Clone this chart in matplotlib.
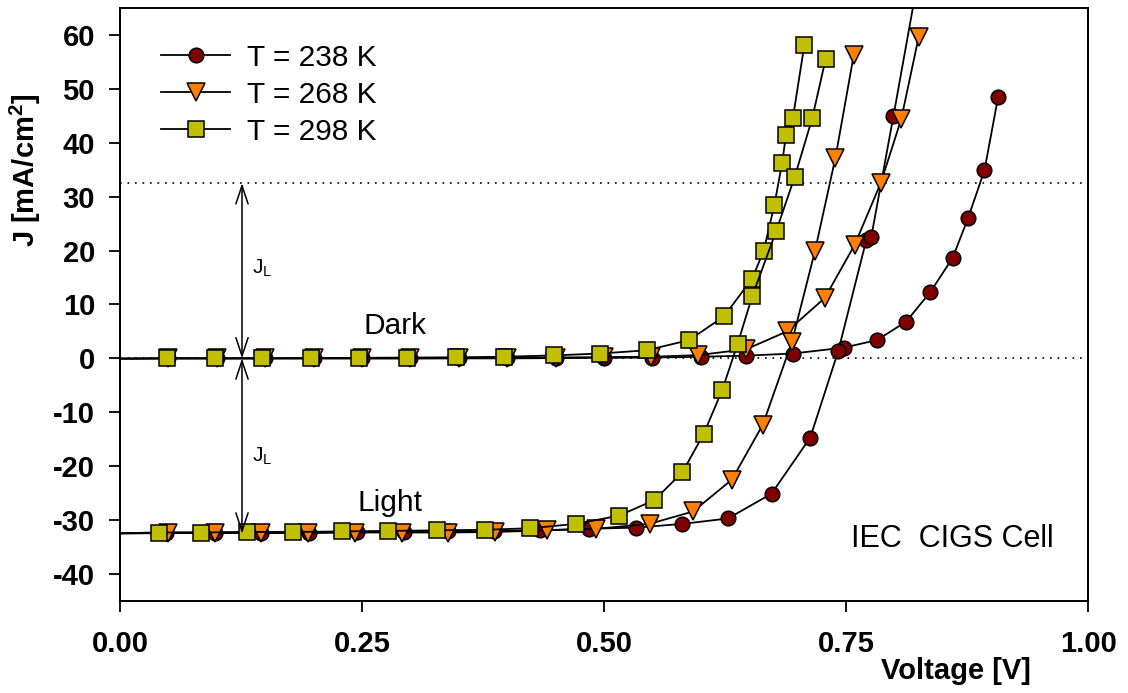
import matplotlib
matplotlib.use("Agg")
import matplotlib.pyplot as plt

plt.rcParams['font.family'] = ['Liberation Sans', 'DejaVu Sans']
plt.rcParams['mathtext.fontset'] = 'custom'
plt.rcParams['mathtext.rm'] = 'Liberation Sans'
plt.rcParams['mathtext.bf'] = 'Liberation Sans:bold'
plt.rcParams['axes.unicode_minus'] = False

# T = 238 K
v238_light = [-0.05, 0.048, 0.098, 0.146, 0.195, 0.245, 0.293, 0.339, 0.386, 0.434,
              0.484, 0.533, 0.581, 0.628, 0.673, 0.713, 0.742, 0.771, 0.776, 0.799, 0.826]
j238_light = [-32.6, -32.3, -32.3, -32.3, -32.3, -32.2, -32.2, -32.1, -32.0, -31.9,
              -31.6, -31.4, -30.7, -29.7, -25.1, -14.7, 1.4, 22.0, 22.5, 45.0, 72.0]
v238_dark = [-0.05, 0.05, 0.10, 0.15, 0.20, 0.25, 0.30, 0.35, 0.40, 0.45, 0.50, 0.55,
             0.60, 0.647, 0.695, 0.748, 0.782, 0.812, 0.837, 0.860, 0.876, 0.893, 0.907]
j238_dark = [-0.1, 0.0, 0.0, 0.0, 0.0, 0.0, 0.0, 0.0, 0.0, 0.05, 0.1, 0.15,
             0.3, 0.5, 0.9, 2.0, 3.4, 6.8, 12.3, 18.6, 26.0, 34.9, 48.4]

# T = 268 K
v268_light = [-0.05, 0.050, 0.098, 0.146, 0.194, 0.243, 0.291, 0.339, 0.387, 0.441,
              0.492, 0.547, 0.592, 0.632, 0.664, 0.694, 0.718, 0.739, 0.758]
j268_light = [-32.6, -32.4, -32.4, -32.4, -32.4, -32.3, -32.3, -32.3, -32.2, -31.9,
              -31.6, -30.7, -28.4, -22.5, -12.3, 3.0, 20.0, 37.2, 56.3]
v268_dark = [-0.05, 0.05, 0.10, 0.15, 0.20, 0.25, 0.30, 0.35, 0.40, 0.45, 0.50,
             0.549, 0.597, 0.647, 0.689, 0.728, 0.759, 0.786, 0.807, 0.825]
j268_dark = [-0.1, 0.0, 0.0, 0.0, 0.0, 0.0, 0.0, 0.05, 0.1, 0.15, 0.25,
             0.3, 0.6, 1.7, 5.0, 11.2, 21.1, 32.6, 44.4, 59.6]

# T = 298 K
v298_light = [-0.05, 0.040, 0.084, 0.131, 0.179, 0.229, 0.277, 0.327, 0.377, 0.424, 0.471,
              0.515, 0.552, 0.581, 0.603, 0.622, 0.638, 0.653, 0.678, 0.697, 0.715, 0.729]
j298_light = [-32.6, -32.3, -32.3, -32.2, -32.2, -32.1, -32.0, -31.9, -31.8, -31.5, -30.7,
              -29.2, -26.3, -21.1, -14.0, -5.9, 2.7, 11.5, 23.7, 33.7, 44.5, 55.6]
v298_dark = [-0.05, 0.049, 0.098, 0.147, 0.197, 0.247, 0.296, 0.347, 0.397, 0.448, 0.496,
             0.544, 0.588, 0.624, 0.653, 0.665, 0.676, 0.684, 0.688, 0.695, 0.707]
j298_dark = [-0.1, 0.0, 0.0, 0.0, 0.05, 0.1, 0.15, 0.2, 0.3, 0.55, 0.9,
             1.5, 3.4, 7.8, 14.8, 20.0, 28.5, 36.3, 41.5, 44.5, 58.2]

jl = 32.5       # light generated current
v_arrow = 0.126

fig = plt.figure(figsize=(11.28, 6.93), dpi=100)
ax = fig.add_axes([0.1064, 0.1328, 0.8582, 0.8557])

series = [
    ('T = 238 K', 'o', '#800000', 10.5, v238_light, j238_light, v238_dark, j238_dark),
    ('T = 268 K', 'v', '#FF8000', 12.5, v268_light, j268_light, v268_dark, j268_dark),
    ('T = 298 K', 's', '#C0C000', 11, v298_light, j298_light, v298_dark, j298_dark),
]
for label, mk, col, ms, vl, jlt, vd, jd in series:
    style = dict(color='black', lw=1.3, marker=mk, markersize=ms,
                 markerfacecolor=col, markeredgecolor='black', markeredgewidth=1.1)
    ax.plot(vd, jd, **style)
    ax.plot(vl, jlt, label=label, **style)

ax.axhline(jl, color='black', lw=1.2, ls=(0, (1, 3.5)), zorder=0)
ax.axhline(0, color='black', lw=1.2, ls=(0, (1, 3.5)), zorder=0)

arrow = dict(arrowstyle='<->,head_length=0.6,head_width=0.2', color='black', lw=1.1,
             shrinkA=0, shrinkB=0, mutation_scale=22)
ax.annotate('', xy=(v_arrow, jl), xytext=(v_arrow, 0), arrowprops=arrow)
ax.annotate('', xy=(v_arrow, 0), xytext=(v_arrow, -jl), arrowprops=arrow)
ax.text(0.136, 15.8, r'J$_\mathregular{L}$', fontsize=15, va='baseline')
ax.text(0.136, -19.1, r'J$_\mathregular{L}$', fontsize=15, va='baseline')

ax.text(0.284, 4.5, 'Dark', fontsize=21.5, ha='center', va='baseline')
ax.text(0.279, -28.4, 'Light', fontsize=21.5, ha='center', va='baseline')
ax.text(0.964, -34.9, 'IEC  CIGS Cell', fontsize=22, ha='right', va='baseline')

ax.set_xlim(0, 1.0)
ax.set_ylim(-45, 65)
ax.set_xticks([0, 0.25, 0.5, 0.75, 1.0])
ax.set_xticklabels(['0.00', '0.25', '0.50', '0.75', '1.00'])
ax.set_yticks(range(-40, 61, 10))
ax.tick_params(direction='out', length=8, width=1.3, labelsize=21)
ax.tick_params(axis='x', pad=13)
ax.tick_params(axis='y', pad=10)
for t in ax.get_xticklabels() + ax.get_yticklabels():
    t.set_fontweight('bold')
for s in ax.spines.values():
    s.set_linewidth(1.4)

ax.set_xlabel('Voltage [V]', fontsize=21, fontweight='bold')
ax.xaxis.set_label_coords(0.864, -0.095)
ax.set_ylabel(r'J [mA/cm$^\mathbf{2}$]', fontsize=21, fontweight='bold')
ax.yaxis.set_label_coords(-0.08, 0.727)

ax.legend(loc='upper left', bbox_to_anchor=(0.015, 0.985), frameon=False,
          fontsize=21.5, handlelength=2.3, handletextpad=0.55, labelspacing=0.3)

fig.savefig('out.png', dpi=100)
